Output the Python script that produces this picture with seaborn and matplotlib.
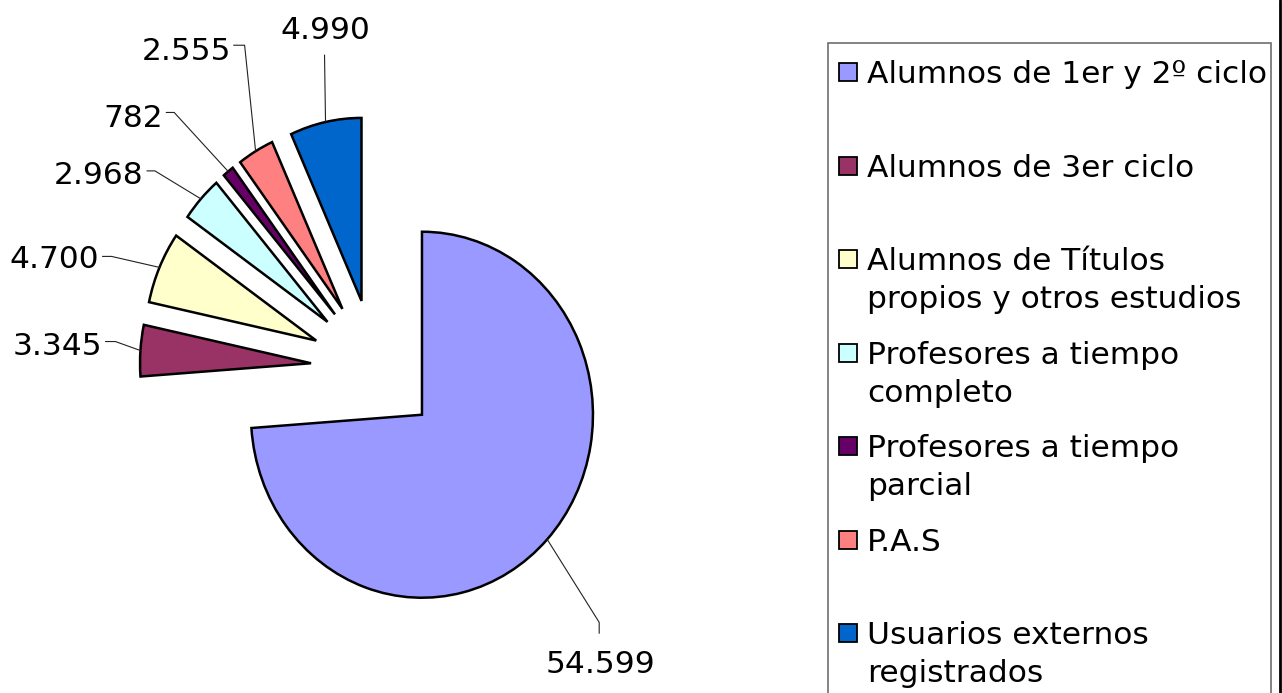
import numpy as np
import matplotlib
matplotlib.use("Agg")
import matplotlib.pyplot as plt
from matplotlib.patches import Rectangle
from matplotlib.lines import Line2D
import seaborn as sns

# Library users by group
categories = [
    "Alumnos de 1er y 2º ciclo",
    "Alumnos de 3er ciclo",
    "Alumnos de Títulos\npropios y otros estudios",
    "Profesores a tiempo\ncompleto",
    "Profesores a tiempo\nparcial",
    "P.A.S",
    "Usuarios externos\nregistrados",
]
values = [54599, 3345, 4700, 2968, 782, 2555, 4990]
colors = ["#9999ff", "#993366", "#ffffcc", "#ccffff", "#660066", "#ff8080", "#0066cc"]

sns.set_theme(style="white")
plt.rcParams["font.family"] = ["DejaVu Sans"]

W, H = 1282, 693
fig = plt.figure(figsize=(W / 100, H / 100), dpi=100)
fig.patch.set_facecolor("white")
ax = fig.add_axes([0, 0, 1, 1])

palette = sns.color_palette(colors)
wedges, _ = ax.pie(
    values,
    colors=palette,
    startangle=90,
    counterclock=False,
    explode=[0.375] * len(values),
    radius=1.0,
    wedgeprops=dict(edgecolor="black", linewidth=1.8, joinstyle="miter"),
)

# slightly taller than wide, pie centred left of the legend
RX, RY = 171.0, 183.0
CX, CY = 375.0, 368.0
ax.set_aspect("auto")
ax.set_xlim(-CX / RX, (W - CX) / RX)
ax.set_ylim((CY - H) / RY, CY / RY)
ax.axis("off")

FS = 22.5
fs_px = FS * 100 / 72.0
cap_mid = 0.3645 * fs_px


def to_fig(px, py):
    """image pixel (y down) -> figure fraction"""
    return px / W, 1 - py / H


# label layout: leader path offsets from the arc point and text centre (px, y up)
layout = [
    dict(path=[(0, 0), (52, -83), (52, -94)], text=(53.5, -122.5), ha="center"),
    dict(path=[(0, 0), (-25, 9), (-35, 9)], text=(-38, 6.5), ha="right"),
    dict(path=[(0, 0), (-48, 11), (-57, 11)], text=(-60, 11), ha="right"),
    dict(path=[(0, 0), (-46, 28), (-54, 28)], text=(-58, 26.5), ha="right"),
    dict(path=[(0, 0), (-54, 59), (-62, 59)], text=(-65, 56), ha="right"),
    dict(path=[(0, 0), (-11, 106), (-22, 106)], text=(-24, 103), ha="right"),
    dict(path=[(0, 0), (-1, 67)], text=(-0.5, 94), ha="center"),
]

fig.canvas.draw()
for w, v, lay in zip(wedges, values, layout):
    mid = np.deg2rad((w.theta1 + w.theta2) / 2)
    cx, cy = w.center
    ax_pt = ax.transData.transform((cx + w.r * np.cos(mid), cy + w.r * np.sin(mid)))
    # display px (y up) -> image px (y down)
    axp, ayp = ax_pt[0], H - ax_pt[1]
    xs = [axp + dx for dx, dy in lay["path"]]
    ys = [ayp - dy for dx, dy in lay["path"]]
    fx, fy = zip(*[to_fig(x, y) for x, y in zip(xs, ys)])
    fig.add_artist(Line2D(fx, fy, color="#222222", lw=0.8))
    tx = axp + lay["text"][0]
    ty = ayp - lay["text"][1] + cap_mid
    label = f"{v:,}".replace(",", ".")
    fig.text(*to_fig(tx, ty), label, ha=lay["ha"], va="baseline",
             fontsize=FS, color="black")

# legend box
x0, y0 = to_fig(828, 705)
x1, y1 = to_fig(1271, 43)
fig.add_artist(Rectangle((x0, y0), x1 - x0, y1 - y0, transform=fig.transFigure,
                         facecolor="white", edgecolor="#6e6e6e", lw=1.2, zorder=1))
# outer frame on the right edge
fig.add_artist(Line2D([1279.5 / W] * 2, [0, 1], color="black", lw=2.0))

for i, (lab, col) in enumerate(zip(categories, palette)):
    yc = 72 + 93.5 * i
    sx, sy = to_fig(839, yc + 9)
    fig.add_artist(Rectangle((sx, sy), 18 / W, 18 / H, transform=fig.transFigure,
                             facecolor=col, edgecolor="black", lw=1.3, zorder=3))
    for j, line in enumerate(lab.split("\n")):
        fig.text(*to_fig(867, yc + cap_mid + 38 * j), line, ha="left",
                 va="baseline", fontsize=FS, color="black", zorder=3)

fig.savefig("out.png", dpi=100)
